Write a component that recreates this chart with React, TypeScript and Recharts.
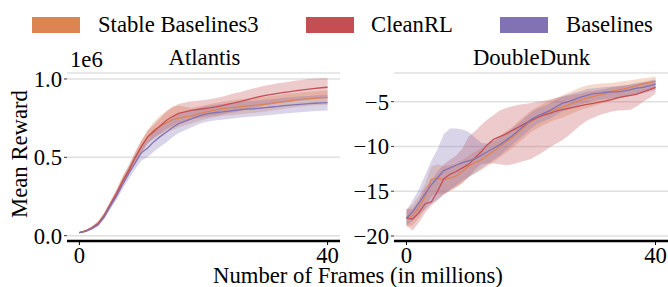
import React from 'react';
import { ComposedChart, Area, Line, XAxis, YAxis, CartesianGrid } from 'recharts';

// ---------- data (x = frames in millions) ----------
const frames = [0,1,2,3,4,5,6,7,8,9,10,11,12,13,14,15,16,17,18,19,20,21,22,23,24,25,26,27,28,29,30,31,32,33,34,35,36,37,38,39,40];

const seriesNames = ['Stable Baselines3', 'CleanRL', 'Baselines'];
const xTicks = [0, 40];

// Atlantis (units of 1e6)
const atlSb3Mean = [0.02,0.03,0.05,0.08,0.13,0.20,0.27,0.35,0.42,0.50,0.57,0.63,0.675,0.70,0.72,0.74,0.75,0.758,0.765,0.775,0.785,0.795,0.802,0.81,0.815,0.819,0.823,0.827,0.831,0.835,0.84,0.845,0.85,0.856,0.861,0.866,0.87,0.874,0.877,0.879,0.881];
const atlSb3Lo = [0.016,0.024,0.041,0.067,0.112,0.178,0.244,0.32,0.388,0.465,0.53,0.585,0.625,0.645,0.66,0.675,0.69,0.703,0.715,0.727,0.739,0.75,0.757,0.765,0.769,0.772,0.775,0.779,0.783,0.787,0.793,0.798,0.804,0.81,0.815,0.821,0.825,0.829,0.832,0.834,0.836];
const atlSb3Hi = [0.024,0.036,0.059,0.093,0.148,0.222,0.296,0.38,0.452,0.535,0.61,0.675,0.725,0.765,0.795,0.825,0.83,0.822,0.815,0.823,0.831,0.84,0.847,0.855,0.861,0.866,0.871,0.875,0.879,0.883,0.887,0.892,0.896,0.902,0.907,0.911,0.915,0.919,0.922,0.924,0.926];

const atlCleanMean = [0.02,0.03,0.05,0.075,0.13,0.20,0.27,0.35,0.42,0.50,0.57,0.63,0.665,0.70,0.735,0.76,0.78,0.79,0.80,0.805,0.81,0.815,0.822,0.83,0.84,0.848,0.857,0.867,0.877,0.887,0.895,0.902,0.908,0.914,0.919,0.925,0.93,0.935,0.94,0.944,0.947];
const atlCleanLo = [0.016,0.024,0.042,0.063,0.114,0.18,0.246,0.322,0.39,0.468,0.535,0.59,0.62,0.65,0.68,0.702,0.72,0.73,0.742,0.749,0.755,0.76,0.766,0.773,0.782,0.788,0.797,0.806,0.815,0.825,0.832,0.839,0.844,0.85,0.854,0.86,0.865,0.869,0.874,0.878,0.881];
const atlCleanHi = [0.024,0.036,0.058,0.087,0.146,0.22,0.294,0.378,0.45,0.532,0.605,0.67,0.71,0.75,0.79,0.818,0.84,0.85,0.858,0.861,0.865,0.87,0.878,0.887,0.898,0.908,0.917,0.928,0.939,0.949,0.958,0.965,0.972,0.978,0.984,0.99,0.995,1.0,1.003,1.005,1.006];

const atlBaseMean = [0.02,0.028,0.045,0.07,0.12,0.19,0.255,0.33,0.40,0.465,0.53,0.56,0.60,0.632,0.66,0.69,0.715,0.73,0.745,0.76,0.772,0.78,0.786,0.79,0.795,0.80,0.804,0.808,0.81,0.813,0.817,0.821,0.825,0.83,0.833,0.836,0.839,0.842,0.845,0.847,0.849];
const atlBaseLo = [0.016,0.022,0.037,0.058,0.104,0.17,0.23,0.30,0.365,0.425,0.48,0.502,0.536,0.567,0.595,0.628,0.655,0.672,0.69,0.708,0.722,0.73,0.736,0.74,0.745,0.75,0.754,0.758,0.76,0.763,0.767,0.771,0.775,0.78,0.783,0.786,0.789,0.792,0.795,0.797,0.799];
const atlBaseHi = [0.024,0.034,0.053,0.082,0.136,0.21,0.28,0.36,0.435,0.505,0.58,0.618,0.664,0.697,0.725,0.752,0.775,0.788,0.80,0.812,0.822,0.83,0.836,0.84,0.845,0.85,0.854,0.858,0.86,0.863,0.867,0.871,0.875,0.88,0.883,0.886,0.889,0.892,0.895,0.897,0.899];

// DoubleDunk
const ddSb3Mean = [-18.0,-17.7,-16.8,-15.6,-13.7,-13.55,-13.7,-13.55,-13.3,-12.8,-12.2,-11.8,-11.5,-11.0,-10.5,-10.0,-9.5,-9.0,-8.4,-7.8,-7.2,-6.8,-6.4,-6.1,-5.85,-5.6,-5.35,-5.1,-4.8,-4.6,-4.4,-4.25,-4.1,-3.85,-3.7,-3.55,-3.4,-3.2,-3.0,-2.85,-2.7];
const ddSb3Lo = [-19.0,-18.8,-18.0,-17.0,-15.5,-15.3,-15.3,-15.0,-14.6,-14.0,-13.4,-13.0,-12.7,-12.2,-11.7,-11.2,-10.7,-10.2,-9.6,-9.0,-8.4,-8.0,-7.6,-7.3,-7.0,-6.8,-6.5,-6.2,-5.9,-5.7,-5.5,-5.3,-5.1,-4.9,-4.7,-4.5,-4.3,-4.1,-3.9,-3.7,-3.5];
const ddSb3Hi = [-17.0,-16.5,-15.5,-14.2,-12.2,-12.0,-12.2,-12.1,-11.9,-11.5,-11.0,-10.6,-10.2,-9.7,-9.2,-8.8,-8.3,-7.8,-7.2,-6.6,-6.0,-5.6,-5.2,-4.9,-4.6,-4.3,-4.0,-3.7,-3.4,-3.2,-3.05,-3.0,-2.95,-2.9,-2.8,-2.7,-2.6,-2.5,-2.4,-2.3,-2.2];

const ddCleanMean = [-18.0,-18.1,-17.4,-16.4,-16.2,-15.0,-13.6,-13.1,-12.8,-12.4,-12.0,-11.3,-10.6,-9.8,-9.2,-8.9,-8.6,-8.2,-7.85,-7.45,-7.1,-6.8,-6.5,-6.3,-6.05,-5.9,-5.75,-5.6,-5.45,-5.3,-5.2,-5.05,-4.9,-4.75,-4.55,-4.4,-4.3,-4.15,-3.9,-3.65,-3.4];
const ddCleanLo = [-18.8,-19.4,-18.5,-17.4,-16.6,-16.0,-15.4,-14.9,-14.5,-14.1,-13.4,-12.6,-12.0,-11.9,-11.9,-12.0,-12.1,-12.0,-11.8,-11.6,-11.4,-11.0,-10.6,-10.1,-9.7,-9.3,-8.8,-8.2,-7.6,-7.1,-6.8,-6.5,-6.3,-6.1,-6.0,-5.95,-5.9,-5.5,-5.0,-4.6,-4.1];
const ddCleanHi = [-17.0,-17.0,-16.0,-14.6,-13.8,-12.8,-12.0,-11.5,-11.0,-10.2,-8.9,-8.3,-7.6,-7.0,-6.5,-6.0,-5.7,-5.5,-5.35,-5.25,-5.15,-5.0,-4.9,-4.75,-4.6,-4.45,-4.3,-4.2,-4.1,-3.9,-3.8,-3.7,-3.55,-3.4,-3.3,-3.2,-3.1,-3.0,-2.9,-2.8,-2.7];

const ddBaseMean = [-18.0,-17.3,-16.3,-15.3,-14.3,-13.5,-12.7,-12.4,-12.1,-11.8,-11.6,-11.4,-11.0,-10.6,-10.2,-9.8,-9.3,-8.8,-8.2,-7.6,-7.0,-6.6,-6.3,-6.0,-5.6,-5.2,-5.0,-4.75,-4.5,-4.3,-4.1,-4.05,-3.95,-3.9,-3.9,-3.8,-3.65,-3.5,-3.4,-3.25,-3.05];
const ddBaseLo = [-18.8,-18.3,-17.6,-17.0,-16.4,-15.9,-15.3,-14.8,-14.3,-13.8,-13.4,-13.0,-12.5,-12.0,-11.5,-11.0,-10.4,-9.8,-9.2,-8.6,-8.0,-7.5,-7.2,-6.9,-6.5,-6.1,-5.9,-5.6,-5.3,-5.1,-4.9,-4.8,-4.7,-4.6,-4.6,-4.5,-4.35,-4.2,-4.05,-3.9,-3.7];
const ddBaseHi = [-17.2,-16.0,-14.8,-13.2,-11.6,-10.3,-8.6,-8.0,-8.0,-8.1,-8.4,-9.0,-9.6,-9.7,-9.4,-9.0,-8.5,-8.0,-7.4,-6.8,-6.2,-5.8,-5.5,-5.2,-4.8,-4.4,-4.2,-4.0,-3.8,-3.6,-3.5,-3.45,-3.35,-3.3,-3.25,-3.2,-3.05,-2.9,-2.8,-2.65,-2.5];

const atlYTicks = [0, 0.5, 1.0];
const ddYTicks = [-20, -15, -10, -5];

// ---------- styling ----------
const COLORS = ['#dd8452', '#c44e52', '#8172b3'];
const FONT = '"Liberation Serif", "Times New Roman", Times, serif';
const FS = 22.7;

function buildData(
  means: number[][], los: number[][], his: number[][]
) {
  return frames.map((x, i) => ({
    x,
    m0: means[0][i], b0: [los[0][i], his[0][i]],
    m1: means[1][i], b1: [los[1][i], his[1][i]],
    m2: means[2][i], b2: [los[2][i], his[2][i]],
  }));
}

const atlData = buildData(
  [atlSb3Mean, atlCleanMean, atlBaseMean],
  [atlSb3Lo, atlCleanLo, atlBaseLo],
  [atlSb3Hi, atlCleanHi, atlBaseHi]
);
const ddData = buildData(
  [ddSb3Mean, ddCleanMean, ddBaseMean],
  [ddSb3Lo, ddCleanLo, ddBaseLo],
  [ddSb3Hi, ddCleanHi, ddBaseHi]
);

const fmtMinus = (v: number) => String(v).replace('-', '\u2212');

type PanelProps = {
  data: any[];
  left: number;
  width: number;
  yAxisWidth: number;
  marginRight: number;
  yDomain: [number, number];
  yTicks: number[];
  yFmt: (v: number) => string;
};

function Panel({ data, left, width, yAxisWidth, marginRight, yDomain, yTicks, yFmt }: PanelProps) {
  const tickStyle = { fontFamily: FONT, fontSize: FS, fill: '#000' };
  return (
    <div style={{ position: 'absolute', left, top: 0 }}>
      <ComposedChart
        width={width}
        height={287}
        data={data}
        margin={{ top: 73, right: marginRight, bottom: 16, left: 0 }}
      >
        <CartesianGrid horizontal vertical={false} stroke="#e0e0e0" strokeWidth={1.5} />
        <XAxis
          dataKey="x"
          type="number"
          domain={[-2, 42]}
          ticks={xTicks}
          allowDataOverflow
          height={30}
          axisLine={{ stroke: '#000', strokeWidth: 2.6 }}
          tickLine={{ stroke: '#000', strokeWidth: 1 }}
          tickSize={4}
          tickMargin={2}
          tick={tickStyle}
        />
        <YAxis
          type="number"
          domain={yDomain}
          ticks={yTicks}
          allowDataOverflow
          width={yAxisWidth}
          axisLine={false}
          tickLine={{ stroke: '#333', strokeWidth: 1 }}
          tickSize={3}
          tickMargin={2}
          tick={tickStyle}
          tickFormatter={yFmt}
        />
        {[0, 1, 2].map((k) => (
          <Area
            key={'b' + k}
            type="linear"
            dataKey={'b' + k}
            stroke="none"
            fill={COLORS[k]}
            fillOpacity={0.3}
            isAnimationActive={false}
            dot={false}
            activeDot={false}
          />
        ))}
        {[0, 1, 2].map((k) => (
          <Line
            key={'m' + k}
            type="linear"
            dataKey={'m' + k}
            stroke={COLORS[k]}
            strokeWidth={1.3}
            dot={false}
            activeDot={false}
            isAnimationActive={false}
          />
        ))}
      </ComposedChart>
    </div>
  );
}

const legendItems = [
  { rx: 32, tx: 98 },
  { rx: 306, tx: 371 },
  { rx: 500, tx: 566 },
];

export default function App() {
  return (
    <div style={{ position: 'absolute', left: 0, top: 0, width: 668, height: 287, background: '#fff', overflow: 'hidden' }}>
      <Panel
        data={atlData}
        left={0}
        width={345}
        yAxisWidth={67}
        marginRight={5}
        yDomain={[-0.034, 1.038]}
        yTicks={atlYTicks}
        yFmt={(v: number) => v.toFixed(1)}
      />
      <Panel
        data={ddData}
        left={330}
        width={338}
        yAxisWidth={64}
        marginRight={0}
        yDomain={[-20.56, -1.8]}
        yTicks={ddYTicks}
        yFmt={fmtMinus}
      />
      <svg
        width={668}
        height={287}
        style={{ position: 'absolute', left: 0, top: 0, pointerEvents: 'none' }}
        fontFamily={FONT}
        fontSize={FS}
      >
        {legendItems.map((it, k) => (
          <g key={k}>
            <rect x={it.rx} y={17} width={48} height={16} fill={COLORS[k]} />
            <text x={it.tx} y={32} fill="#000">{seriesNames[k]}</text>
          </g>
        ))}
        <text x={204.5} y={65} textAnchor="middle" fill="#000">Atlantis</text>
        <text x={531.5} y={65} textAnchor="middle" fill="#000">DoubleDunk</text>
        <text x={70} y={66.5} fill="#000">1e6</text>
        <text x={27} y={154} textAnchor="middle" transform="rotate(-90, 27, 154)" fill="#000">Mean Reward</text>
        <text x={358} y={283} textAnchor="middle" fill="#000">Number of Frames (in millions)</text>
      </svg>
    </div>
  );
}
